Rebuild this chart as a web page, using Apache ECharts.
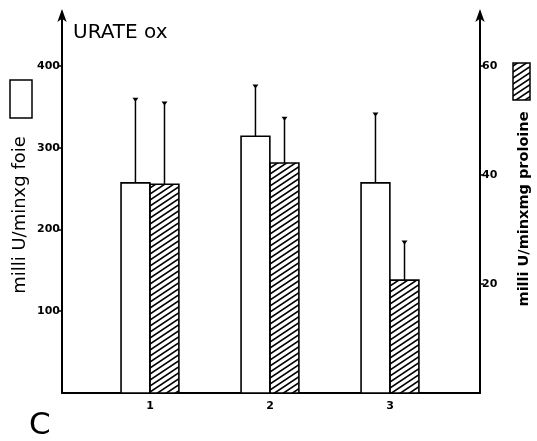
<!DOCTYPE html>
<html>
<head>
<meta charset="utf-8">
<script src="https://cdn.jsdelivr.net/npm/echarts@6/dist/echarts.min.js"></script>
<style>
  html, body { margin: 0; padding: 0; background: #fff; }
  #chart { width: 537px; height: 441px; }
</style>
</head>
<body>
<div id="chart"></div>
<script>
// groupes 1, 2, 3
var groups = [1, 2, 3];
// milli U/min x g foie (barres blanches, axe gauche)
var foieMean = [257, 314, 257];
var foieTop = [360, 376, 342];     // haut des barres d'erreur
// milli U/min x mg proteine (barres hachurees, axe droit)
var protMean = [38.3, 42.2, 20.7];
var protTop = [53.3, 50.5, 27.8];

var leftTicks = [100, 200, 300, 400];
var rightTicks = [20, 40, 60];

// motif hachure ///
var hatch = document.createElement('canvas');
hatch.width = 9; hatch.height = 6;
var hc = hatch.getContext('2d');
hc.fillStyle = '#fff';
hc.fillRect(0, 0, 9, 6);
hc.strokeStyle = '#000';
hc.lineWidth = 1.6;
hc.beginPath();
hc.moveTo(-9, 12); hc.lineTo(18, -6);
hc.moveTo(-18, 12); hc.lineTo(9, -6);
hc.moveTo(0, 12); hc.lineTo(27, -6);
hc.stroke();
var hatchFill = { image: hatch, repeat: 'repeat' };

var barW = 0.24;   // largeur d'une barre en unites de l'axe x

function barRender(offset, fill) {
  return function (params, api) {
    var x = api.value(0) + offset;
    var p0 = api.coord([x - barW / 2, 0]);
    var p1 = api.coord([x + barW / 2, api.value(1)]);
    var top = api.coord([x, api.value(2)]);
    var base = api.coord([x, api.value(1)]);
    return {
      type: 'group',
      children: [
        { type: 'rect', shape: { x: p0[0], y: p1[1], width: p1[0] - p0[0], height: p0[1] - p1[1] },
          style: { fill: fill, stroke: '#000', lineWidth: 1.6 } },
        { type: 'line', shape: { x1: top[0], y1: base[1], x2: top[0], y2: top[1] },
          style: { stroke: '#000', lineWidth: 1.5 } },
        { type: 'polygon', shape: { points: [[top[0] - 3, top[1] - 1], [top[0] + 3, top[1] - 1], [top[0], top[1] + 3]] },
          style: { fill: '#000' } }
      ]
    };
  };
}

var foieData = groups.map(function (g, i) { return [g, foieMean[i], foieTop[i]]; });
var protData = groups.map(function (g, i) { return [g, protMean[i], protTop[i]]; });

var chart = echarts.init(document.getElementById('chart'), null, { renderer: 'canvas' });
var axisFont = { color: '#000', fontSize: 11, fontWeight: 'bold', fontFamily: 'DejaVu Sans' };

chart.setOption({
  animation: false,
  backgroundColor: '#fff',
  grid: { left: 62, right: 57, top: 12, bottom: 48 },
  xAxis: {
    type: 'value', min: 0.267, max: 3.75,
    splitLine: { show: false },
    axisLine: { lineStyle: { color: '#000', width: 2 } },
    axisTick: { show: false },
    axisLabel: Object.assign({ customValues: groups, margin: 8 }, axisFont)
  },
  yAxis: [{
    type: 'value', min: 0, max: 466, position: 'left',
    splitLine: { show: false },
    axisLine: { show: true, symbol: ['none', 'arrow'], symbolSize: [7, 13], symbolOffset: [0, 3], lineStyle: { color: '#000', width: 2 } },
    axisTick: { show: true, customValues: leftTicks, length: 4, lineStyle: { color: '#000', width: 1.5 } },
    axisLabel: Object.assign({ customValues: leftTicks, margin: 2 }, axisFont)
  }, {
    type: 'value', min: 0, max: 69.9, position: 'right',
    splitLine: { show: false },
    axisLine: { show: true, symbol: ['none', 'arrow'], symbolSize: [7, 13], symbolOffset: [0, 3], lineStyle: { color: '#000', width: 2 } },
    axisTick: { show: true, customValues: rightTicks, length: 4, lineStyle: { color: '#000', width: 1.5 } },
    axisLabel: Object.assign({ customValues: rightTicks, margin: 2 }, axisFont)
  }],
  series: [{
    type: 'custom', name: 'foie', yAxisIndex: 0,
    renderItem: barRender(-0.121, '#fff'),
    encode: { x: 0, y: 1 },
    data: foieData
  }, {
    type: 'custom', name: 'proteine', yAxisIndex: 1,
    renderItem: barRender(0.121, hatchFill),
    encode: { x: 0, y: 1 },
    data: protData
  }],
  graphic: [
    { type: 'text', left: 73, top: 23, style: { text: 'URATE ox', fontSize: 20, fontFamily: 'DejaVu Sans', fill: '#000' } },
    { type: 'text', left: 29, top: 410, style: { text: 'C', fontSize: 31, fontFamily: 'DejaVu Sans', fill: '#000' } },
    { type: 'rect', shape: { x: 10, y: 80, width: 22, height: 38 }, style: { fill: '#fff', stroke: '#000', lineWidth: 1.5 } },
    { type: 'rect', shape: { x: 513, y: 63, width: 17, height: 37 }, style: { fill: hatchFill, stroke: '#000', lineWidth: 1.5 } },
    { type: 'text', x: 20, y: 215, rotation: Math.PI / 2,
      style: { text: 'milli U/minxg foie', fontSize: 18, fontFamily: 'DejaVu Sans', fill: '#000', align: 'center', verticalAlign: 'middle' } },
    { type: 'text', x: 524, y: 209, rotation: Math.PI / 2,
      style: { text: 'milli U/minxmg proloine', fontSize: 14.5, fontWeight: 'bold', fontFamily: 'DejaVu Sans', fill: '#000', align: 'center', verticalAlign: 'middle' } }
  ]
});
</script>
</body>
</html>
